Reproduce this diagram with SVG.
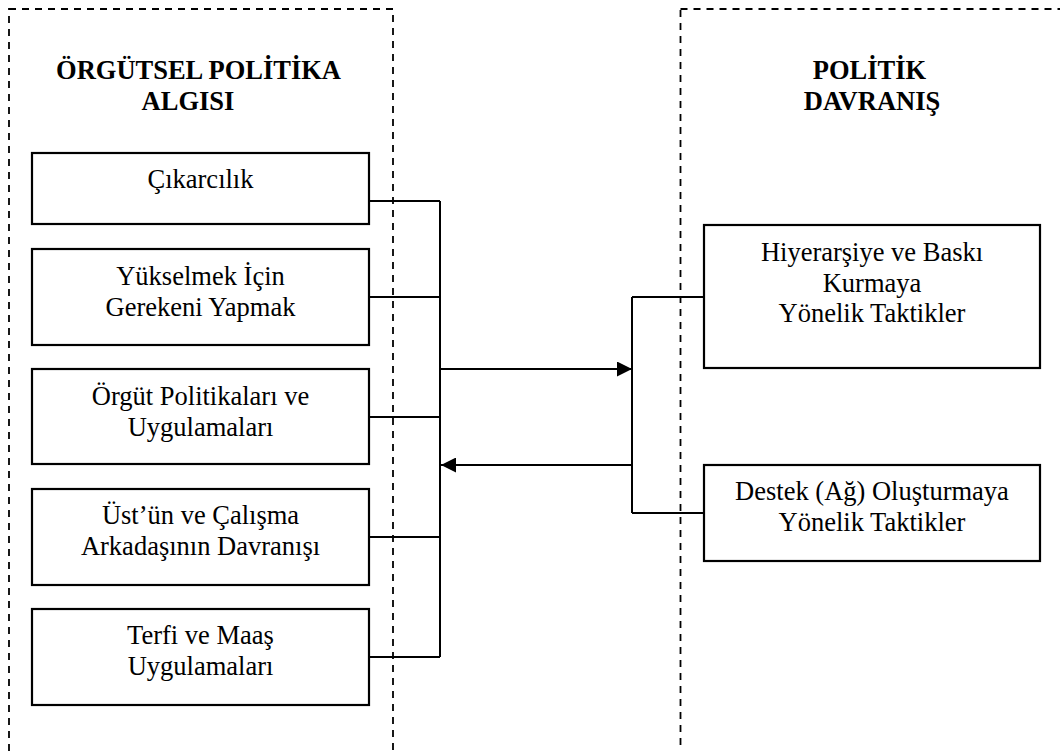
<svg xmlns="http://www.w3.org/2000/svg" width="1060" height="751" viewBox="0 0 1060 751">
  <defs>
    <marker id="arrowhead" viewBox="0 0 15 15" refX="15" refY="7.5" markerWidth="15" markerHeight="15" markerUnits="userSpaceOnUse" orient="auto">
      <path d="M0,0 L15,7.5 L0,15 Z" fill="#000"/>
    </marker>
  </defs>
  <style>
    .frame { fill: none; stroke: #000; stroke-width: 1.8; stroke-dasharray: 7 6; }
    .box { fill: #fff; stroke: #000; stroke-width: 2.2; }
    .link { fill: none; stroke: #000; stroke-width: 2; }
    .label { font-family: "Liberation Serif", "Times New Roman", serif; font-size: 26.5px; fill: #000; text-anchor: middle; }
    .title { font-family: "Liberation Serif", "Times New Roman", serif; font-size: 26.5px; font-weight: bold; fill: #000; text-anchor: middle; }
  </style>

  <rect width="1060" height="751" fill="#fff"/>

  <!-- dashed group frames -->
  <g id="frame-left">
    <rect class="frame" x="9" y="9" width="384" height="780"/>
    <text class="title" x="198.5" y="79">ÖRGÜTSEL POLİTİKA</text>
    <text class="title" x="188" y="110">ALGISI</text>
  </g>
  <g id="frame-right">
    <rect class="frame" x="680.5" y="9" width="420" height="780"/>
    <text class="title" x="869.5" y="79">POLİTİK</text>
    <text class="title" x="872" y="110">DAVRANIŞ</text>
  </g>

  <!-- connectors -->
  <g id="connectors">
    <path class="link" d="M369,201 H440 M369,297 H440 M369,417 H440 M369,537 H440 M369,657 H440 M440,201 V657"/>
    <path class="link" d="M704,297 H632 M704,513 H632 M632,297 V513"/>
    <line class="link" x1="440" y1="369" x2="632" y2="369" marker-end="url(#arrowhead)"/>
    <line class="link" x1="632" y1="465" x2="441" y2="465" marker-end="url(#arrowhead)"/>
  </g>

  <!-- left column nodes -->
  <g id="node-cikarcilik">
    <rect class="box" x="32" y="153" width="337" height="71"/>
    <text class="label" x="200.5" y="188">Çıkarcılık</text>
  </g>
  <g id="node-yukselmek">
    <rect class="box" x="32" y="249" width="337" height="96"/>
    <text class="label" x="200.5" y="285">Yükselmek İçin</text>
    <text class="label" x="200.5" y="316">Gerekeni Yapmak</text>
  </g>
  <g id="node-orgut">
    <rect class="box" x="32" y="369" width="337" height="95"/>
    <text class="label" x="200.5" y="405">Örgüt Politikaları ve</text>
    <text class="label" x="200.5" y="436">Uygulamaları</text>
  </g>
  <g id="node-ust">
    <rect class="box" x="32" y="489" width="337" height="96"/>
    <text class="label" x="200.5" y="524">Üst’ün ve Çalışma</text>
    <text class="label" x="200.5" y="555">Arkadaşının Davranışı</text>
  </g>
  <g id="node-terfi">
    <rect class="box" x="32" y="609" width="337" height="96"/>
    <text class="label" x="200.5" y="644">Terfi ve Maaş</text>
    <text class="label" x="200.5" y="675">Uygulamaları</text>
  </g>

  <!-- right column nodes -->
  <g id="node-hiyerarsi">
    <rect class="box" x="704" y="225" width="336" height="143"/>
    <text class="label" x="872" y="261">Hiyerarşiye ve Baskı</text>
    <text class="label" x="872" y="292">Kurmaya</text>
    <text class="label" x="872" y="322">Yönelik Taktikler</text>
  </g>
  <g id="node-destek">
    <rect class="box" x="704" y="465" width="336" height="96"/>
    <text class="label" x="872" y="500">Destek (Ağ) Oluşturmaya</text>
    <text class="label" x="872" y="531">Yönelik Taktikler</text>
  </g>
</svg>
